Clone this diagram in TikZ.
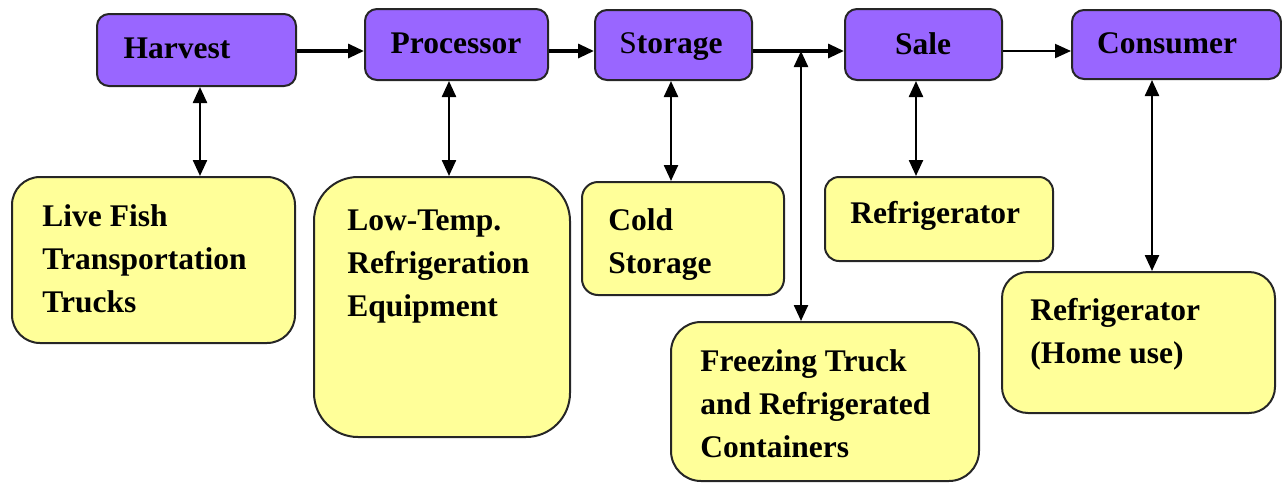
\documentclass[tikz,border=0pt]{standalone}
\usepackage{fontspec}
\setmainfont{Liberation Serif}
\usetikzlibrary{arrows.meta,fit}
\definecolor{pfill}{HTML}{9966FF}
\definecolor{yfill}{HTML}{FFFF99}
\begin{document}
\begin{tikzpicture}[x=0.5pt,y=-0.5pt,
  pbox/.style={draw=black!85, line width=1pt, fill=pfill, rounded corners=6pt, inner sep=0pt},
  ybox/.style={draw=black!85, line width=1pt, fill=yfill, inner sep=0pt},
  lbl/.style={font=\fontsize{15.75}{21.5}\selectfont\bfseries, inner sep=0pt, align=left, anchor=north west},
  tlbl/.style={font=\fontsize{15.75}{21.5}\selectfont\bfseries, inner sep=0pt, anchor=north},
  arr/.style={line width=1.6pt, -{Triangle[length=8pt,width=7pt]}},
  thinarr/.style={line width=1pt, -{Triangle[length=8pt,width=7pt]}},
  darr/.style={line width=1.2pt, {Triangle[length=8pt,width=7pt]}-{Triangle[length=8pt,width=7pt]}}]
\useasboundingbox (0,0) rectangle (1282,483);

% top row
\node[pbox, fit={(97,14) (296,86)}] (harvest) {};
\node[pbox, fit={(365,9) (548,80)}] (processor) {};
\node[pbox, fit={(595,10) (752,80)}] (storage) {};
\node[pbox, fit={(845,9) (1002,80)}] (sale) {};
\node[pbox, fit={(1072,10) (1281,79)}] (consumer) {};

\node[tlbl] (tharvest) at (177,37) {Harvest};
\node[tlbl] (tprocessor) at (456,32) {Processor};
\node[tlbl] (tstorage) at (671,32) {{\mdseries S}torage};
\node[tlbl] (tsale) at (923,32) {Sale};
\node[tlbl] (tconsumer) at (1167,32) {Consumer};

% bottom boxes
\node[ybox, rounded corners=14pt, fit={(12,177) (295,343)}] (livefish) {};
\node[ybox, rounded corners=22pt, fit={(314,177) (570,437)}] (lowtemp) {};
\node[ybox, rounded corners=8pt, fit={(582,182) (784,295)}] (cold) {};
\node[ybox, rounded corners=7pt, fit={(825,177) (1053,261)}] (fridge) {};
\node[ybox, rounded corners=15pt, fit={(671,322) (979,481)}] (freezing) {};
\node[ybox, rounded corners=13pt, fit={(1002,272) (1275,413)}] (home) {};

\node[lbl] (tlivefish) at (42,204) {Live Fish\\Transportation\\Trucks};
\node[lbl] (tlowtemp) at (347,209) {Low-Temp.\\Refrigeration\\Equipment};
\node[lbl] (tcold) at (608,208) {Cold\\Storage};
\node[lbl] (tfridge) at (850,201) {Refrigerator};
\node[lbl] (tfreezing) at (700,349) {Freezing Truck\\and Refrigerated\\Containers};
\node[lbl] (thome) at (1030,298) {Refrigerator\\(Home use)};

% horizontal arrows
\coordinate (jn) at (801,51);
\draw[arr] (harvest.east |- 0,51) -- (processor.west |- 0,51);
\draw[arr] (processor.east |- 0,51) -- (storage.west |- 0,51);
\draw[arr] (storage.east |- 0,51) -- (sale.west |- 0,51);
\draw[thinarr] (sale.east |- 0,51) -- (consumer.west |- 0,51);

% vertical double arrows
\draw[darr] (harvest.south -| 200,0) -- (livefish.north -| 200,0);
\draw[darr] (processor.south -| 449,0) -- (lowtemp.north -| 449,0);
\draw[darr] (storage.south -| 671,0) -- (cold.north -| 671,0);
\draw[darr] (jn) -- (jn |- freezing.north);
\draw[darr] (sale.south -| 916,0) -- (fridge.north -| 916,0);
\draw[darr] (consumer.south -| 1152,0) -- (home.north -| 1152,0);
\end{tikzpicture}
\end{document}
